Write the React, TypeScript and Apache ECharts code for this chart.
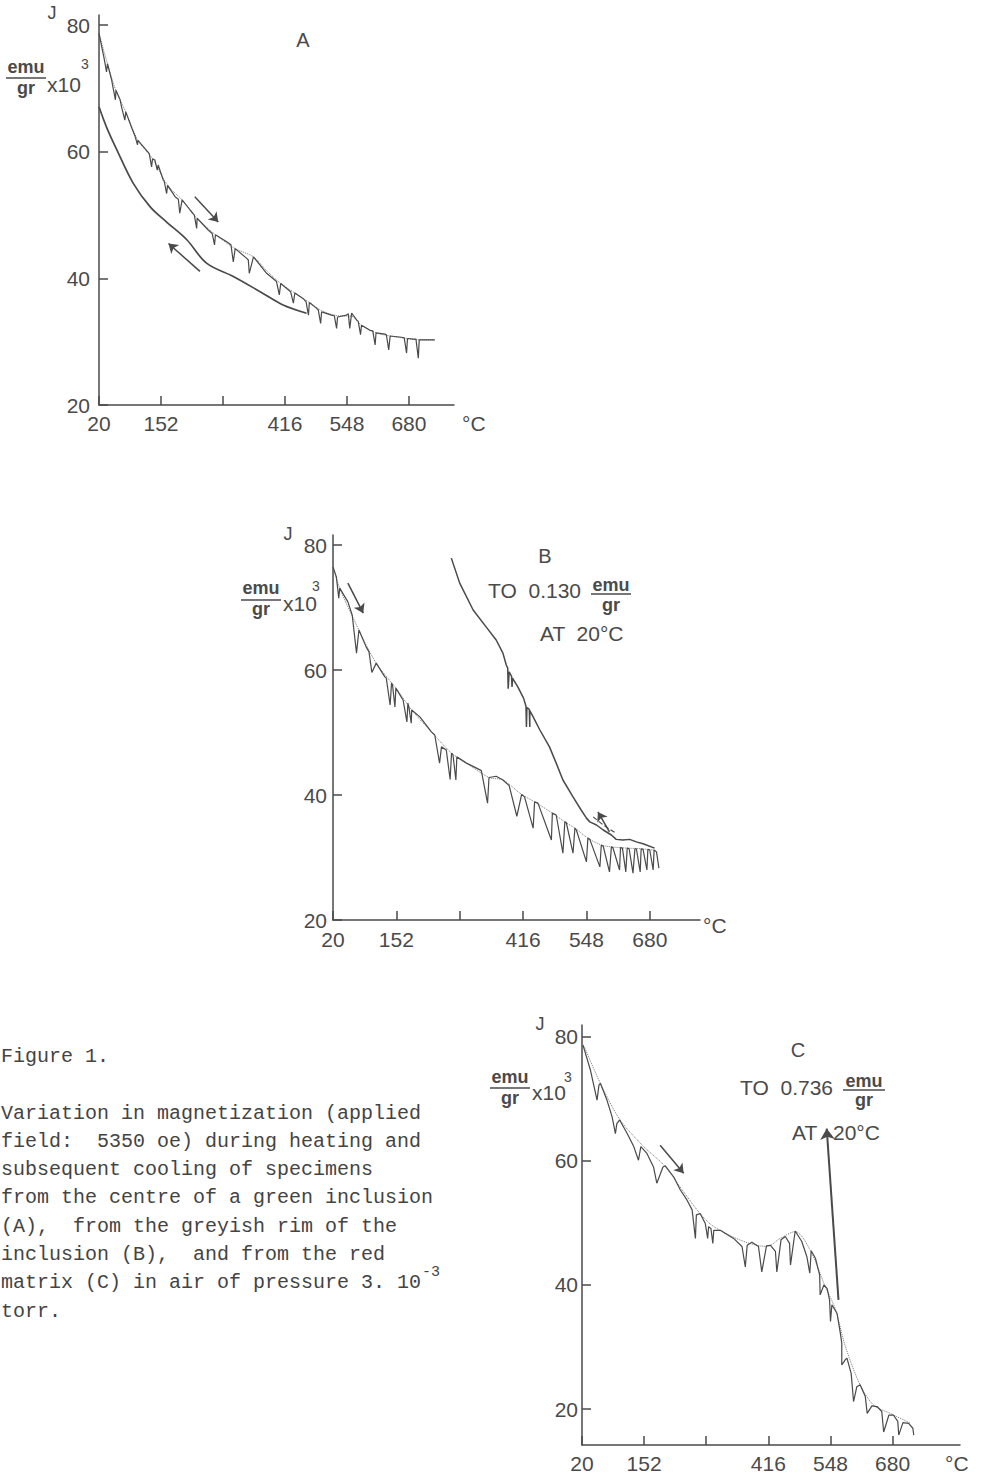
import React, { useEffect, useRef } from 'react';
import * as echarts from 'echarts';

// ---------- tick values ----------
const TEMP_TICKS = [20, 152, 284, 416, 548, 680];
const TEMP_LABELS = [20, 152, 416, 548, 680];
const J_TICKS = [20, 40, 60, 80];

// ---------- Panel A (centre of green inclusion) ----------
const heatA: number[][] = [
  [20, 78.7], [31, 74.7], [36, 72.6], [38, 73.9], [47, 71.3], [49, 70.5], [55, 68.2], [56, 69.7],
  [65, 68.2], [68, 67.1], [75, 65.0], [77, 66.3], [90, 63.7], [97, 62.4], [102, 61.1], [103, 61.8],
  [118, 60.5], [127, 59.7], [132, 57.6], [134, 58.9], [139, 58.7], [144, 57.1], [146, 57.9],
  [157, 55.5], [159, 55.3], [164, 53.4], [166, 54.7], [182, 52.9], [189, 52.5], [192, 50.3],
  [197, 52.4], [214, 50.8], [223, 50.0], [228, 47.9], [229, 49.5], [253, 47.6], [261, 47.1],
  [266, 45.3], [268, 46.9], [292, 45.8], [301, 45.3], [306, 42.6], [310, 44.7], [334, 43.2],
  [338, 42.9], [340, 40.8], [349, 43.4], [377, 40.8], [398, 39.5], [404, 37.4], [407, 39.2],
  [423, 38.2], [428, 37.9], [434, 36.1], [437, 37.7], [455, 36.8], [461, 36.3], [466, 34.2],
  [468, 36.2], [483, 35.3], [487, 35.0], [492, 32.9], [494, 34.7], [515, 34.2], [521, 34.1],
  [526, 32.1], [528, 33.9], [547, 34.2], [551, 34.4], [554, 32.1], [558, 34.5], [569, 33.4],
  [572, 33.2], [577, 31.1], [579, 32.6], [597, 31.8], [603, 31.7], [608, 29.5], [610, 31.4],
  [629, 31.2], [632, 31.1], [637, 28.7], [640, 30.9], [664, 30.7], [670, 30.6], [675, 28.2],
  [677, 30.5], [689, 30.4], [695, 30.4], [700, 27.4], [702, 30.3], [735, 30.3],
];
const envA: number[][] = [
  [20, 78.7], [38, 73.9], [56, 69.7], [77, 66.3], [103, 61.8], [134, 58.9], [166, 54.7],
  [197, 52.4], [229, 49.5], [268, 46.9], [310, 44.7], [349, 43.4], [377, 41.2], [407, 39.2],
  [437, 37.7], [468, 36.2], [494, 34.9], [528, 34.1], [558, 34.0], [579, 32.6], [610, 31.4],
  [640, 30.9], [677, 30.5], [702, 30.3], [735, 30.3],
];
const coolA: number[][] = [
  [20, 67.1], [36, 63.9], [58, 60.3], [93, 55.0], [129, 51.3], [164, 48.9], [207, 46.1],
  [249, 42.4], [306, 40.3], [363, 37.9], [412, 35.8], [462, 34.5],
];
const arrowA1 = [[224, 52.9], [274, 48.9]];
const arrowA2 = [[235, 41.1], [168, 45.5]];

// ---------- Panel B (greyish rim) ----------
const heatB: number[][] = [
  [20, 76.5], [27, 74.9], [32, 71.5], [34, 73.1], [51, 70.9], [60, 68.8], [69, 62.7], [74, 66.4],
  [89, 63.7], [95, 62.9], [101, 59.6], [110, 61.1], [128, 58.9], [131, 58.7], [139, 54.4],
  [142, 57.9], [144, 57.6], [149, 54.1], [151, 57.1], [162, 55.7], [166, 55.2], [174, 51.7],
  [176, 54.7], [178, 54.1], [183, 51.5], [184, 53.6], [201, 52.5], [225, 50.1], [232, 49.6],
  [242, 45.1], [246, 47.7], [256, 47.2], [264, 42.5], [267, 46.7], [270, 46.4], [276, 42.4],
  [278, 46.1], [298, 45.1], [319, 44.3], [329, 43.9], [342, 38.7], [345, 42.8], [360, 43.0],
  [374, 42.4], [387, 41.5], [403, 36.6], [413, 40.1], [419, 39.7], [437, 34.7], [440, 38.9],
  [447, 38.7], [475, 32.8], [477, 37.1], [485, 36.8], [499, 30.7], [503, 35.7], [506, 35.6],
  [520, 30.7], [524, 34.7], [527, 34.4], [548, 29.3], [551, 33.1], [555, 32.9], [576, 28.5],
  [579, 32.0], [583, 31.8], [596, 27.7], [600, 31.7], [603, 31.6], [617, 28.0], [619, 31.6],
  [623, 31.5], [630, 27.7], [633, 31.5], [637, 31.4], [645, 27.5], [649, 31.4], [652, 31.4],
  [660, 27.7], [662, 31.4], [666, 31.3], [674, 28.0], [676, 31.3], [680, 31.2], [687, 28.0],
  [689, 31.2], [694, 30.9], [699, 28.3],
];
const envB: number[][] = [
  [20, 76.5], [34, 73.1], [74, 66.4], [110, 61.1], [151, 57.1], [184, 53.6], [225, 50.1],
  [267, 46.7], [298, 45.1], [345, 42.8], [374, 42.4], [413, 40.1], [440, 38.9], [477, 37.1],
  [503, 35.7], [524, 34.7], [551, 33.1], [579, 32.0], [600, 31.7], [633, 31.5], [662, 31.4],
  [689, 31.2],
];
const coolB: number[][] = [
  [690, 31.5], [666, 32.2], [652, 32.5], [638, 32.9], [624, 32.8], [610, 32.9], [600, 33.6],
  [583, 34.4], [569, 35.2], [555, 35.7], [548, 36.3], [537, 37.6], [520, 39.7], [499, 42.4],
  [485, 45.1], [471, 47.7], [451, 50.4], [437, 52.5], [430, 53.5], [430, 50.9], [429, 53.7],
  [424, 54.0], [423, 50.9], [422, 54.2], [417, 55.5], [405, 57.3], [394, 58.7], [393, 57.3],
  [392, 59.0], [387, 59.7], [385, 57.0], [384, 60.3], [381, 60.8], [374, 62.7], [360, 64.8],
  [339, 66.9], [312, 69.6], [284, 73.9], [266.5, 77.9],
];
const dashB: number[][] = [[562, 36.5], [583, 35.2], [607, 34.0]];
const arrowB1 = [[51, 73.9], [83, 69.1]];
const arrowB2 = [[596, 34.1], [572, 37.3]];

// ---------- Panel C (red matrix) ----------
const heatC: number[][] = [
  [22, 78.7], [38, 74.6], [52, 69.8], [56, 72.2], [59, 72.5], [73, 69.8], [84, 67.1], [91, 64.4],
  [94, 66.0], [100, 66.6], [116, 64.4], [130, 62.3], [140, 60.1], [145, 62.3], [158, 61.2],
  [172, 59.0], [179, 56.4], [192, 59.0], [197, 59.2], [215, 57.4], [229, 55.3], [243, 53.7],
  [254, 52.1], [261, 47.5], [263, 51.3], [271, 51.5], [282, 49.9], [287, 47.5], [289, 49.4],
  [294, 49.1], [298, 46.7], [300, 48.8], [314, 48.8], [342, 47.5], [360, 46.2], [367, 42.9],
  [371, 46.4], [381, 46.9], [395, 46.2], [402, 42.1], [412, 46.3], [420, 46.4], [431, 45.4],
  [434, 42.1], [443, 47.3], [452, 47.8], [461, 46.7], [463, 43.2], [473, 48.7], [487, 47.0],
  [498, 44.5], [504, 41.9], [507, 45.5], [516, 44.3], [525, 41.6], [526, 38.4], [534, 40.0],
  [541, 39.4], [546, 37.6], [548, 34.1], [551, 36.8], [562, 35.4], [569, 32.2], [572, 30.6],
  [572, 27.1], [580, 28.0], [583, 28.2], [592, 25.7], [597, 21.2], [604, 23.6], [611, 23.9],
  [622, 22.0], [626, 19.3], [636, 20.5], [647, 20.4], [657, 19.6], [661, 16.3], [672, 19.0],
  [682, 19.0], [691, 18.0], [693, 15.8], [702, 17.8], [714, 17.7], [723, 16.9], [725, 15.8],
];
const envC: number[][] = [
  [25, 78.4], [59, 72.5], [101, 66.6], [151, 62.3], [194, 59.3], [236, 55.0], [271, 51.5],
  [300, 49.4], [364, 47.0], [413, 46.2], [441, 47.5], [473, 48.6], [505, 45.6], [537, 39.7],
  [558, 36.2], [580, 30.0], [611, 23.9], [640, 20.6], [675, 19.3], [718, 17.7],
];
const arrowC1 = [[186, 62.5], [236, 58.0]];
const arrowC2 = [[565, 37.6], [540, 65.2]];

// ---------- caption ----------
const captionTitle = 'Figure 1.';
const captionLines = [
  'Variation in magnetization (applied',
  'field:  5350 oe) during heating and',
  'subsequent cooling of specimens',
  'from the centre of a green inclusion',
  '(A),  from the greyish rim of the',
  'inclusion (B),  and from the red',
  'matrix (C) in air of pressure 3. 10',
  'torr.',
];

const INK = '#4a4a4a';
const SANS = "'Liberation Sans', Arial, sans-serif";
const MONO = "'Liberation Mono', 'DejaVu Sans Mono', monospace";

const panels = [
  { grid: { left: 99, top: 15, width: 355, height: 390 }, xMax: 776, yMin: 20, yMax: 81.6, yMargin: 9, xMargin: 8 },
  { grid: { left: 333, top: 535, width: 367, height: 385 }, xMax: 784.6, yMin: 20, yMax: 81.6, yMargin: 6, xMargin: 9 },
  { grid: { left: 582, top: 1025, width: 378, height: 420 }, xMax: 823.2, yMin: 14.2, yMax: 81.9, yMargin: 4, xMargin: 8 },
];

function line(i: number, data: number[][], width = 1.3, type: any = 'solid', color = INK, z = 3, smooth: any = false) {
  return {
    type: 'line', xAxisIndex: i, yAxisIndex: i, data, showSymbol: false, symbol: 'none',
    silent: true, z, smooth, lineStyle: { color, width, type }, clip: false,
  };
}

function arrow(i: number, pts: number[][], width = 1.5, size = 9, curveness = 0) {
  return {
    type: 'line', xAxisIndex: i, yAxisIndex: i, data: pts, showSymbol: false, symbol: 'none',
    silent: true, lineStyle: { opacity: 0 },
    markLine: {
      silent: true, symbol: ['none', 'arrow'], symbolSize: size, label: { show: false },
      lineStyle: { color: INK, width, type: 'solid', curveness },
      data: [[{ coord: pts[0] }, { coord: pts[1] }]],
    },
  };
}

function T(text: string, x: number, y: number, size: number, align = 'left', weight = 'normal', family = SANS, fill = INK) {
  return {
    type: 'text', x, y, silent: true,
    style: { text, font: `${weight} ${size}px ${family}`, fill, textAlign: align, textVerticalAlign: 'middle' },
  };
}
function L(x1: number, y1: number, x2: number, y2: number, w = 1.5) {
  return { type: 'line', silent: true, shape: { x1, y1, x2, y2 }, style: { stroke: INK, lineWidth: w } };
}

function unitLabel(cx: number, yEmu: number, yBar: number, yGr: number, xX10: number, yX10: number, x3: number, y3: number) {
  return [
    T('emu', cx, yEmu, 18, 'center', 'bold'),
    L(cx - 20, yBar, cx + 20, yBar, 1.5),
    T('gr', cx, yGr, 18, 'center', 'bold'),
    T('x10', xX10, yX10, 21),
    T('3', x3, y3, 14),
  ];
}

export default function App() {
  const ref = useRef<HTMLDivElement>(null);
  useEffect(() => {
    const chart = echarts.init(ref.current!, null, { renderer: 'svg' });
    const xAxis = panels.map((p, i) => ({
      gridIndex: i, type: 'value', min: 20, max: p.xMax,
      axisLine: { onZero: false, lineStyle: { color: INK, width: 1.5 } },
      axisTick: { inside: true, length: 9, customValues: TEMP_TICKS, lineStyle: { color: INK, width: 1.5 } },
      axisLabel: { customValues: TEMP_LABELS, color: INK, fontSize: 21, fontFamily: SANS, margin: p.xMargin },
      splitLine: { show: false },
    }));
    const yAxis = panels.map((p, i) => ({
      gridIndex: i, type: 'value', min: p.yMin, max: p.yMax,
      axisLine: { onZero: false, lineStyle: { color: INK, width: 1.5 } },
      axisTick: { inside: true, length: 9, customValues: J_TICKS, lineStyle: { color: INK, width: 1.5 } },
      axisLabel: { customValues: J_TICKS, color: INK, fontSize: 21, fontFamily: SANS, margin: p.yMargin },
      splitLine: { show: false },
    }));
    const series = [
      line(0, envA, 1, 'dotted', '#777', 2, 0.3),
      line(0, heatA, 1.2),
      line(0, coolA, 1.7, 'solid', INK, 3, 0.35),
      arrow(0, arrowA1),
      arrow(0, arrowA2, 1.5, 9, -0.12),
      line(1, envB, 1, 'dotted', '#777', 2, 0.3),
      line(1, heatB, 1.2),
      line(1, coolB, 1.5),
      line(1, dashB, 1.2, 'dashed'),
      arrow(1, arrowB1),
      arrow(1, arrowB2),
      line(2, envC, 1, 'dotted', '#777', 2, 0.3),
      line(2, heatC, 1.2),
      arrow(2, arrowC1),
      arrow(2, arrowC2, 2, 11),
    ];
    const graphic: any[] = [
      // Panel A
      T('J', 52, 13, 18, 'center'),
      ...unitLabel(26, 67, 78, 88, 47, 84, 81, 64),
      T('A', 303, 40, 20, 'center'),
      T('°C', 462, 423, 21),
      // Panel B
      T('J', 288, 534, 18, 'center'),
      ...unitLabel(261, 588, 600, 609, 283, 603, 312, 586),
      T('B', 545, 556, 20, 'center'),
      T('TO  0.130', 488, 590, 21),
      T('emu', 611, 585, 18, 'center', 'bold'),
      L(591, 594, 631, 594),
      T('gr', 611, 605, 18, 'center', 'bold'),
      T('AT  20°C', 540, 633, 21),
      T('°C', 703, 925, 21),
      // Panel C
      T('J', 540, 1024, 18, 'center'),
      ...unitLabel(510, 1077, 1088, 1098, 532, 1092, 564, 1077),
      T('C', 798, 1050, 20, 'center'),
      T('TO  0.736', 740, 1087, 21),
      T('emu', 864, 1081, 18, 'center', 'bold'),
      L(843, 1090, 885, 1090),
      T('gr', 864, 1100, 18, 'center', 'bold'),
      T('AT', 792, 1132, 21),
      T('20°C', 833, 1132, 21),
      T('°C', 945, 1463, 21),
      // caption
      T(captionTitle, 1, 1056, 20, 'left', 'normal', MONO, '#444'),
      ...captionLines.map((s, k) => T(s, 1, 1113 + k * 28.3, 20, 'left', 'normal', MONO, '#444')),
      T('-3', 422, 1272, 15, 'left', 'normal', MONO, '#444'),
    ];
    chart.setOption({
      animation: false,
      backgroundColor: '#ffffff',
      grid: panels.map((p) => ({ ...p.grid, containLabel: false })),
      xAxis, yAxis, series, graphic,
    });
    return () => chart.dispose();
  }, []);
  return <div ref={ref} style={{ position: 'absolute', left: 0, top: 0, width: 981, height: 1475 }} />;
}
